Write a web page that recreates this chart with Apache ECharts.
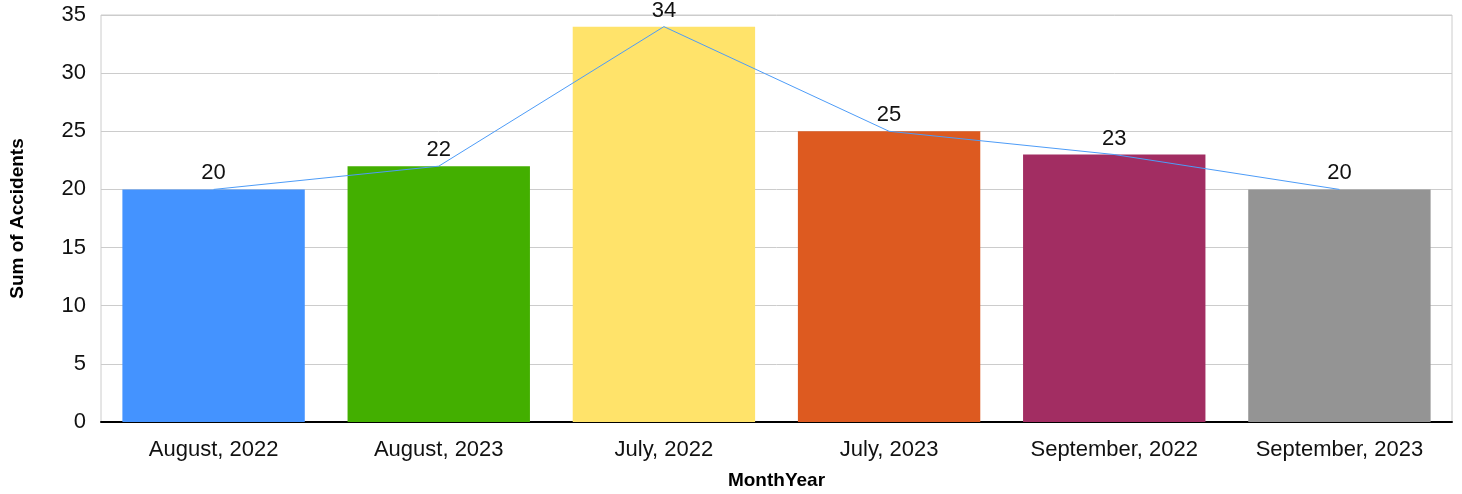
<!DOCTYPE html>
<html>
<head>
<meta charset="utf-8">
<script src="https://cdn.jsdelivr.net/npm/echarts@6/dist/echarts.min.js"></script>
<style>html,body{margin:0;padding:0;background:#fff}#c{width:1462px;height:494px}</style>
</head>
<body>
<div id="c"></div>
<script>
const categories = ["August, 2022", "August, 2023", "July, 2022", "July, 2023", "September, 2022", "September, 2023"];
const accidents = [20, 22, 34, 25, 23, 20];
const barColors = ["#4493FF", "#43AF00", "#FFE36A", "#DD5A20", "#A22D62", "#949494"];
const yTicks = { min: 0, max: 35, interval: 5 };

const chart = echarts.init(document.getElementById('c'), null, { renderer: 'canvas' });
const font = "'Liberation Sans', Arial, sans-serif";
chart.setOption({
  animation: false,
  backgroundColor: '#fff',
  grid: { left: 101, right: 10, top: 15, bottom: 72, show: true, borderColor: '#cccccc', borderWidth: 1, outerBoundsMode: 'none', containLabel: false },
  xAxis: {
    type: 'category',
    data: categories,
    name: 'MonthYear',
    nameLocation: 'middle',
    nameGap: 49,
    nameTextStyle: { fontFamily: font, fontWeight: 'bold', fontSize: 19, color: '#000' },
    axisLine: { lineStyle: { color: '#000', width: 2 } },
    axisTick: { show: false },
    axisLabel: { fontFamily: font, fontSize: 22, color: '#111', margin: 17 }
  },
  yAxis: {
    type: 'value',
    min: yTicks.min, max: yTicks.max, interval: yTicks.interval,
    name: 'Sum of Accidents',
    nameLocation: 'middle',
    nameGap: 74,
    nameTextStyle: { fontFamily: font, fontWeight: 'bold', fontSize: 19, color: '#000' },
    axisLine: { show: false },
    axisTick: { show: false },
    splitLine: { lineStyle: { color: '#cccccc', width: 1 } },
    axisLabel: { fontFamily: font, fontSize: 22, color: '#111', margin: 15 }
  },
  series: [
    {
      type: 'bar',
      data: accidents.map((v, i) => ({ value: v, itemStyle: { color: barColors[i] } })),
      barWidth: '81%',
      label: { show: true, position: 'top', distance: 5, fontFamily: font, fontSize: 22, color: '#111' },
      z: 2
    },
    {
      type: 'line',
      data: accidents,
      symbol: 'none',
      lineStyle: { color: '#4d9cf8', width: 1 },
      z: 3
    }
  ]
});
</script>
</body>
</html>
